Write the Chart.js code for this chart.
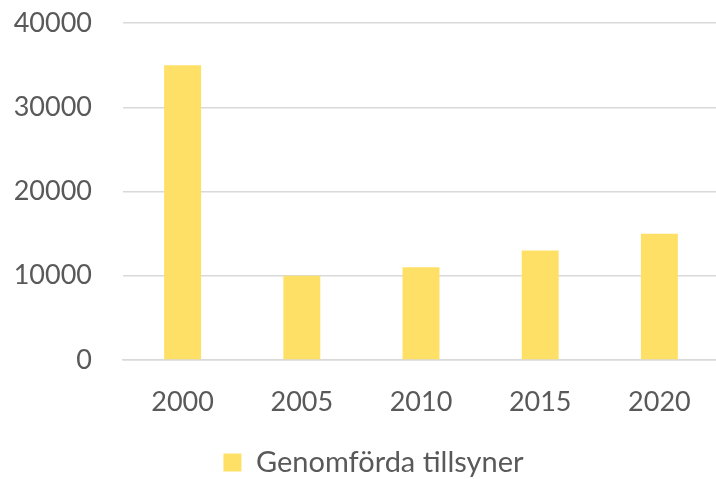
<!DOCTYPE html>
<html>
<head>
<meta charset="utf-8">
<script src="https://cdn.jsdelivr.net/npm/chart.js@4"></script>
<style>
html,body{margin:0;padding:0;background:#fff;overflow:hidden;}
#wrap{width:716px;height:479px;position:relative;overflow:hidden;}
</style>
</head>
<body>
<div id="wrap"><canvas id="c" width="719" height="479"></canvas></div>
<script>
const categories = ["2000", "2005", "2010", "2015", "2020"];
const seriesName = "Genomförda tillsyner";
const seriesValues = [35000, 10000, 11000, 13000, 15000];
const yTicks = [0, 10000, 20000, 30000, 40000];

const FONT = "Lato";
const TEXT = "#595959";
const GRID = "#D9D9D9";
const BAR = "#FFE066";

const legendShift = {
  id: "legendShift",
  afterLayout(chart) {
    const lg = chart.legend;
    if (lg) { lg.left += 14; lg.right += 14; lg.top += 8; lg.bottom += 8; }
  }
};

new Chart(document.getElementById("c"), {
  type: "bar",
  data: {
    labels: categories,
    datasets: [{
      label: seriesName,
      data: seriesValues,
      backgroundColor: BAR,
      borderWidth: 0,
      barPercentage: 0.62,
      categoryPercentage: 0.5
    }]
  },
  plugins: [legendShift],
  options: {
    responsive: false,
    animation: false,
    layout: { padding: { top: 23, right: 0, left: 0, bottom: 0 } },
    plugins: {
      legend: {
        position: "bottom",
        labels: {
          font: { family: FONT, size: 29 },
          color: TEXT,
          boxWidth: 18,
          boxHeight: 18,
          padding: 0
        }
      },
      tooltip: { enabled: false }
    },
    scales: {
      x: {
        grid: { display: false, drawTicks: false },
        border: { display: true, color: GRID, width: 1.5 },
        ticks: { font: { family: FONT, size: 27 }, color: TEXT, padding: 26 },
        afterFit: (s) => { s.height = 80; }
      },
      y: {
        min: 0, max: 40000,
        afterBuildTicks: (s) => { s.ticks = yTicks.map(v => ({ value: v })); },
        grid: { color: GRID, lineWidth: 1.5, drawTicks: false },
        border: { display: false },
        ticks: { font: { family: FONT, size: 27 }, color: TEXT, padding: 31,
                 callback: (v) => String(v) },
        afterFit: (s) => { s.width = 123; s.paddingTop = 0; s.paddingBottom = 0; }
      }
    }
  }
});
</script>
</body>
</html>
